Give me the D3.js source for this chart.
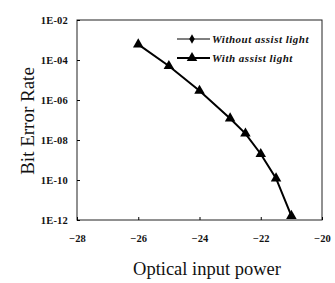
<!DOCTYPE html>
<html><head><meta charset="utf-8">
<script src="https://cdn.jsdelivr.net/npm/d3@7"></script>
<style>body{margin:0;background:#fff}svg{display:block}</style>
</head><body><svg id="c" width="335" height="283"></svg>
<script>
const powerX = [-26, -25, -24, -23, -22.5, -22, -21.5, -21];
const berWith = [6.0e-4, 5.0e-5, 2.9e-6, 1.2e-7, 2.1e-8, 2.0e-9, 1.2e-10, 1.6e-12];
const xTicks = [-28, -26, -24, -22, -20];
const yTicks = [1e-12, 1e-10, 1e-8, 1e-6, 1e-4, 1e-2];
const yTickLabels = ["1E-12", "1E-10", "1E-08", "1E-06", "1E-04", "1E-02"];
const legendLabels = ["Without assist light", "With assist light"];

const svg = d3.select("#c");
const m = {l: 77, r: 322, t: 20, b: 220};
const x = d3.scaleLinear().domain([-28, -20]).range([m.l, m.r]);
const y = d3.scaleLog().domain([1e-12, 1e-2]).range([m.b, m.t]);
const font = "'Liberation Serif', 'Times New Roman', serif";

svg.append("rect").attr("x", m.l).attr("y", m.t).attr("width", m.r - m.l).attr("height", m.b - m.t)
  .attr("fill", "none").attr("stroke", "#222").attr("stroke-width", 1);

const xa = svg.append("g").attr("transform", `translate(0,${m.b})`)
  .call(d3.axisBottom(x).tickValues(xTicks).tickSizeInner(-3).tickSizeOuter(0).tickPadding(15).tickFormat(d3.format("d")));
xa.select(".domain").remove();
xa.selectAll("text").attr("font-family", font).attr("font-size", 10.5).attr("font-weight", "bold").attr("fill", "#111");

const ya = svg.append("g").attr("transform", `translate(${m.l},0)`)
  .call(d3.axisLeft(y).tickValues(yTicks).tickSizeInner(-3).tickSizeOuter(0).tickPadding(9)
    .tickFormat((d, i) => yTickLabels[i]));
ya.select(".domain").remove();
ya.selectAll("text").attr("font-family", font).attr("font-size", 10.5).attr("font-weight", "bold").attr("letter-spacing", 0.2).attr("fill", "#111");

const line = d3.line().x((d, i) => x(powerX[i])).y(d => y(d));
svg.append("path").datum(berWith).attr("d", line).attr("fill", "none").attr("stroke", "#000").attr("stroke-width", 2);
const tri = d3.symbol().type(d3.symbolTriangle).size(48);
svg.selectAll(".pt").data(berWith).join("path").attr("class", "pt")
  .attr("transform", (d, i) => `translate(${x(powerX[i])},${y(d)})`).attr("d", tri).attr("fill", "#000");

// legend
const lg = svg.append("g");
const rows = [39, 58];
legendLabels.forEach((lab, i) => {
  lg.append("line").attr("x1", 177).attr("x2", 210).attr("y1", rows[i]).attr("y2", rows[i])
    .attr("stroke", "#000").attr("stroke-width", i === 0 ? 1 : 2);
  lg.append("path").attr("transform", `translate(192,${rows[i]})`)
    .attr("d", d3.symbol().type(i === 0 ? d3.symbolDiamond : d3.symbolTriangle).size(i === 0 ? 26 : 48))
    .attr("fill", "#000");
  lg.append("text").attr("x", 212).attr("y", rows[i] + 4).text(lab)
    .attr("font-family", font).attr("font-style", "italic").attr("font-weight", "bold").attr("font-size", 11)
    .attr("letter-spacing", 0.5).attr("fill", "#111");
});

svg.append("text").attr("transform", "translate(34,121) rotate(-90)").attr("text-anchor", "middle")
  .attr("font-family", font).attr("font-size", 19).attr("fill", "#111").text("Bit Error Rate");
svg.append("text").attr("x", 207).attr("y", 275).attr("text-anchor", "middle")
  .attr("font-family", font).attr("font-size", 18.5).attr("fill", "#111").text("Optical input power");
</script></body></html>
